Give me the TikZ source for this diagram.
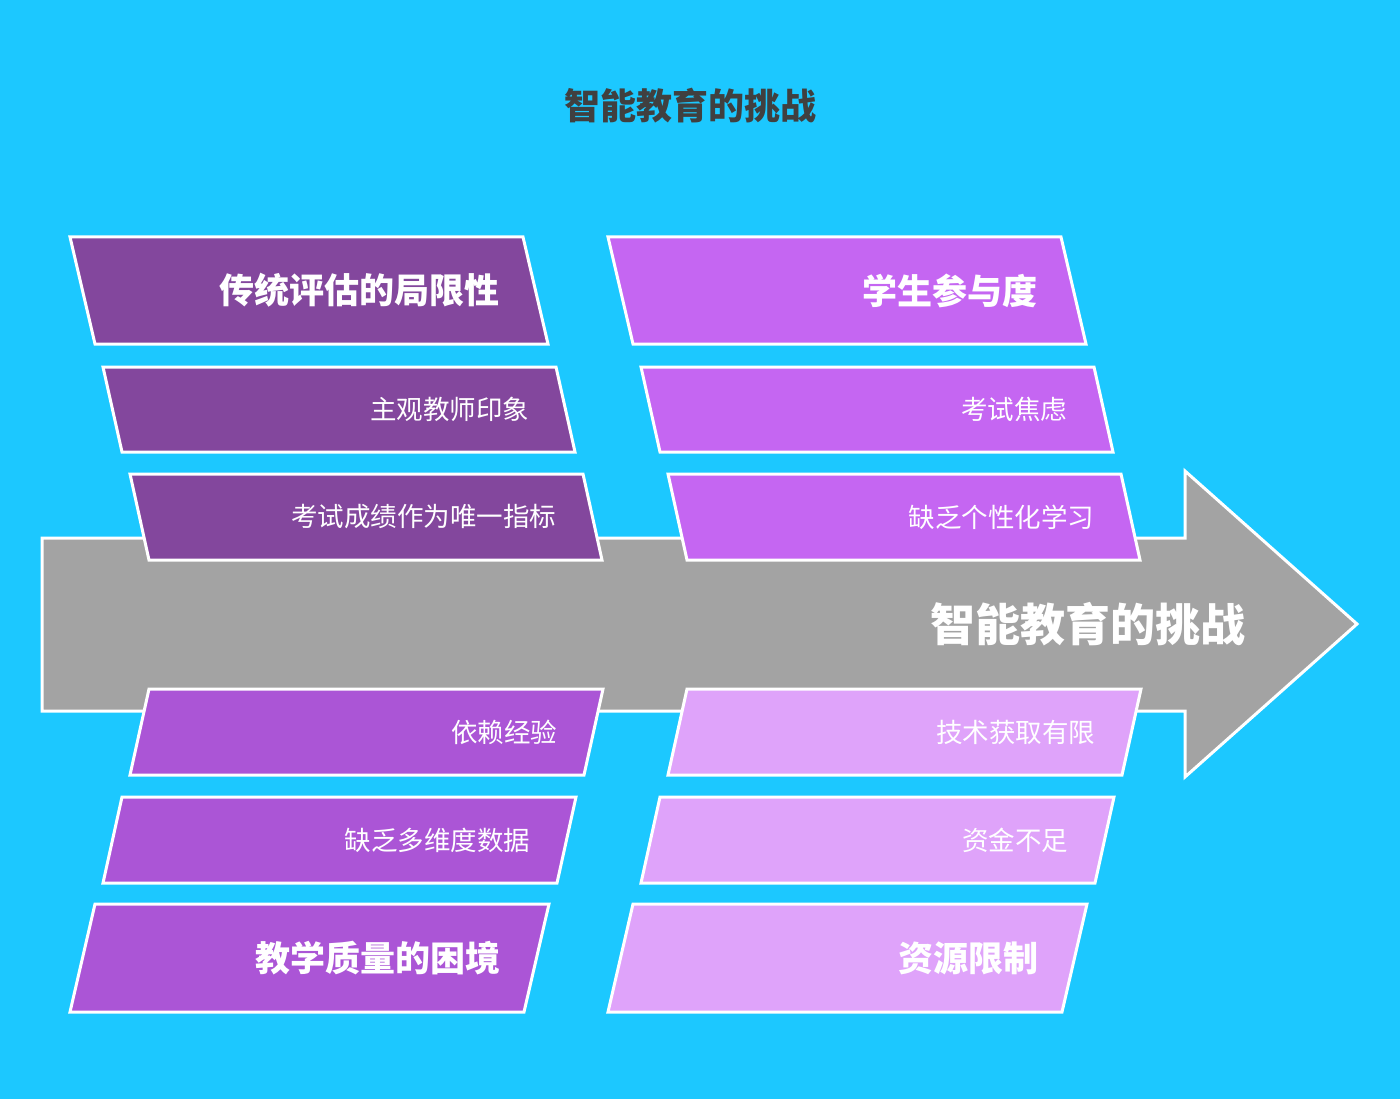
\documentclass[tikz,border=0pt]{standalone}
\usepackage{fontspec}
\setmainfont{Noto Sans CJK SC}
\newfontfamily\cjk{Noto Sans CJK SC}
\definecolor{bgblue}{HTML}{1CC8FF}
\definecolor{arrowgray}{HTML}{A3A3A3}
\definecolor{pdark}{HTML}{83479D}
\definecolor{pbright}{HTML}{C566F2}
\definecolor{pmid}{HTML}{AB55D6}
\definecolor{plight}{HTML}{DFA3FA}
\definecolor{titlegray}{HTML}{404040}
\tikzset{
  x=1pt, y=-1pt,
  panel/.style={draw=white, line width=3pt, line join=miter},
  headtext/.style={anchor=east, text=white, font=\cjk\bfseries\fontsize{35}{40}\selectfont, inner sep=0pt},
  itemtext/.style={anchor=east, text=white, font=\cjk\fontsize{26.5}{30}\selectfont, inner sep=0pt},
}
\newcommand{\pgram}[7]{% tlx, trx, ty, by, shift, color, name
  \path[panel, fill=#6] (#1,#3) -- (#2,#3) -- ({#2+#5},#4) -- ({#1+#5},#4) -- cycle;
  \coordinate (#7) at ({#2+#5/2-36},{(#3+#4)/2});
}
\begin{document}
\begin{tikzpicture}
\fill[bgblue] (0,0) rectangle (1400,1099);
\useasboundingbox (0,0) rectangle (1400,1099);
% title
\node[text=titlegray, font=\cjk\bfseries\fontsize{36}{40}\selectfont, inner sep=0pt] (title) at (690,106) {智能教育的挑战};
% main arrow
\path[panel, fill=arrowgray] (42,538) -- (1185,538) -- (1185,471) -- (1357,624) -- (1185,777) -- (1185,711) -- (42,711) -- cycle;
\node[anchor=east, text=white, font=\cjk\bfseries\fontsize{45}{50}\selectfont, inner sep=0pt] (spine) at (1246,624) {智能教育的挑战};
% left column
\pgram{70}{523}{237}{344}{25}{pdark}{l1}
\pgram{103}{556}{367}{452}{19}{pdark}{l2}
\pgram{130}{583}{474}{560}{19}{pdark}{l3}
\pgram{149}{603}{689}{775}{-19}{pmid}{l4}
\pgram{122}{576}{797}{883}{-19}{pmid}{l5}
\pgram{95}{549}{904}{1012}{-25}{pmid}{l6}
% right column
\pgram{608}{1061}{237}{344}{25}{pbright}{r1}
\pgram{641}{1094}{367}{452}{19}{pbright}{r2}
\pgram{668}{1121}{474}{560}{19}{pbright}{r3}
\pgram{687}{1141}{689}{775}{-19}{plight}{r4}
\pgram{660}{1114}{797}{883}{-19}{plight}{r5}
\pgram{633}{1087}{904}{1012}{-25}{plight}{r6}
% texts
\node[headtext] (tl1) at (l1) {传统评估的局限性};
\node[itemtext] (tl2) at (l2) {主观教师印象};
\node[itemtext] (tl3) at (l3) {考试成绩作为唯一指标};
\node[itemtext] (tl4) at (l4) {依赖经验};
\node[itemtext] (tl5) at (l5) {缺乏多维度数据};
\node[headtext] (tl6) at (l6) {教学质量的困境};
\node[headtext] (tr1) at (r1) {学生参与度};
\node[itemtext] (tr2) at (r2) {考试焦虑};
\node[itemtext] (tr3) at (r3) {缺乏个性化学习};
\node[itemtext] (tr4) at (r4) {技术获取有限};
\node[itemtext] (tr5) at (r5) {资金不足};
\node[headtext] (tr6) at (r6) {资源限制};
\end{tikzpicture}
\end{document}
